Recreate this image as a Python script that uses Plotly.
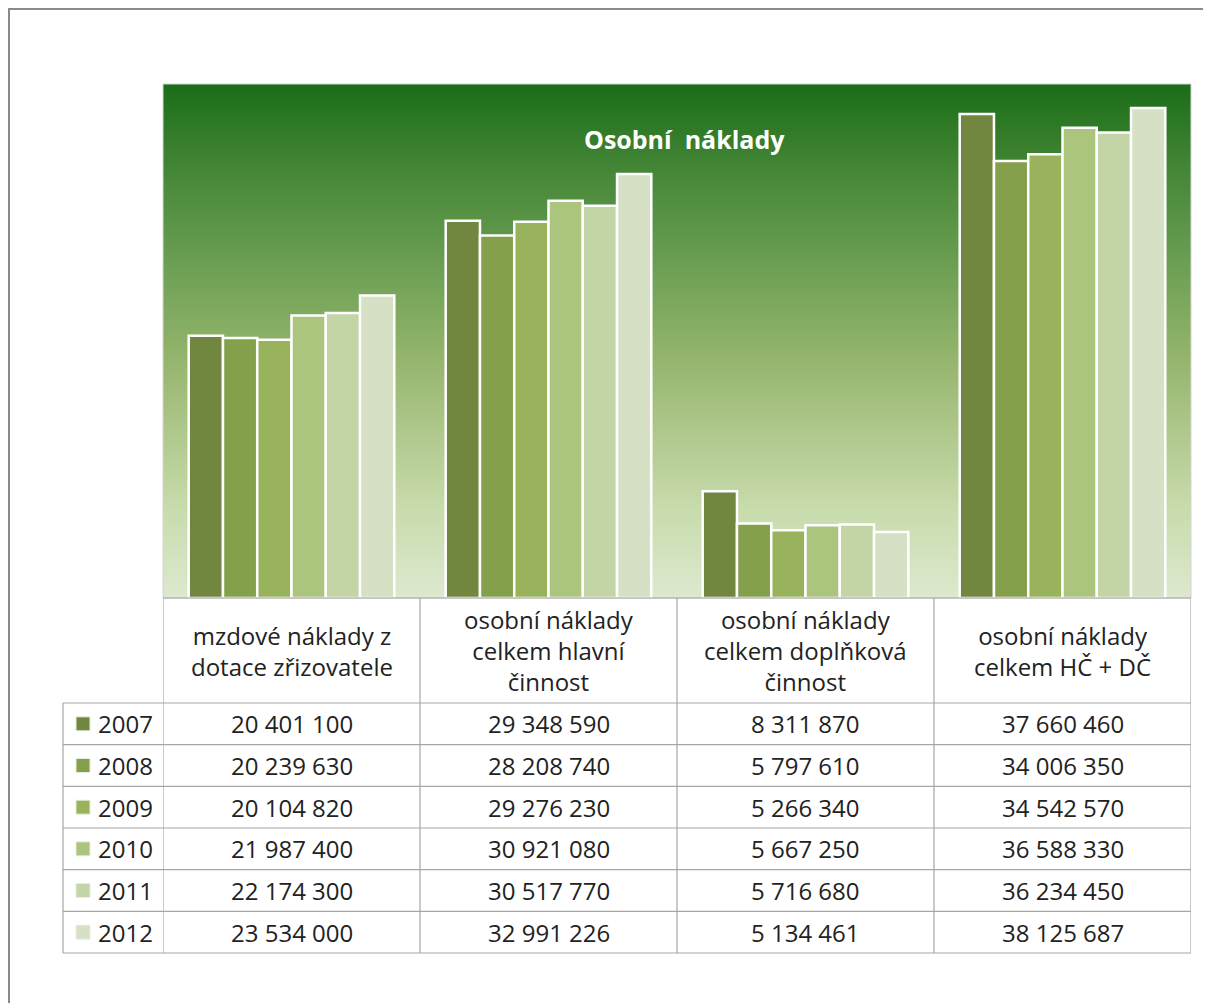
import plotly.graph_objects as go

# ---------------- data ----------------
categories = [
    "mzdové náklady z<br>dotace zřizovatele",
    "osobní náklady<br>celkem hlavní<br>činnost",
    "osobní náklady<br>celkem doplňková<br>činnost",
    "osobní náklady<br>celkem HČ + DČ",
]
years = ["2007", "2008", "2009", "2010", "2011", "2012"]
v2007 = [20401100, 29348590, 8311870, 37660460]
v2008 = [20239630, 28208740, 5797610, 34006350]
v2009 = [20104820, 29276230, 5266340, 34542570]
v2010 = [21987400, 30921080, 5667250, 36588330]
v2011 = [22174300, 30517770, 5716680, 36234450]
v2012 = [23534000, 32991226, 5134461, 38125687]
series = [v2007, v2008, v2009, v2010, v2011, v2012]
colors = ["#71863e", "#85a04b", "#98b35b", "#abc57e", "#c3d4a6", "#d6e0c5"]
title_text = "Osobní  náklady"

# ---------------- layout constants (pixels, in window coordinates) ----------------
W, H = 1211, 1003
OFF = 8                                  # page body margin
PL, PR, PT, PB = 163, 1191, 84, 598      # plot area
LEG_X = 63                               # left edge of legend column
HDR_BOTTOM = 703
ROW_H = 41.67
FONT = "Open Sans"
FS = 24
TXT = "#222222"
GRID = "#a6a6a6"


def px(x):
    return (x - OFF) / W


def py(y):
    return 1 - (y - OFF) / H


def fmt(v):
    return f"{v:,}".replace(",", " ")


fig = go.Figure()

# gradient background of plot area
fig.add_trace(go.Heatmap(
    x=[-0.5, 3.5], y=[0, 40e6], z=[[0, 0], [1, 1]], zsmooth="best",
    colorscale=[[0, "#dde9cf"], [0.18, "#c7dbab"], [0.35, "#aac486"],
                [0.47, "#94b46c"], [0.6, "#76a55a"], [0.8, "#4c8b3c"],
                [1, "#1b6d18"]],
    showscale=False, hoverinfo="skip",
))

xs = list(range(len(categories)))
for yr, vals, col in zip(years, series, colors):
    fig.add_trace(go.Bar(
        x=xs, y=vals, name=yr, marker=dict(color=col, line=dict(color="white", width=2.5)),
    ))

shapes = []
# outer frame
shapes.append(dict(type="rect", xref="paper", yref="paper", x0=px(9), x1=1.05,
                   y0=py(9), y1=-0.05, line=dict(color="#8a8a8a", width=2)))
# plot area light border
shapes.append(dict(type="rect", xref="paper", yref="paper", x0=px(PL), x1=px(PR),
                   y0=py(PT), y1=py(PB), line=dict(color="#d4d4d4", width=1)))

n_rows = len(years)
row_edges = [HDR_BOTTOM + i * ROW_H for i in range(n_rows + 1)]
TB = row_edges[-1]
# horizontal table lines
shapes.append(dict(type="line", xref="paper", yref="paper", x0=px(PL), x1=px(PR),
                   y0=py(PB), y1=py(PB), line=dict(color=GRID, width=1.2)))
for ye in row_edges:
    shapes.append(dict(type="line", xref="paper", yref="paper", x0=px(LEG_X), x1=px(PR),
                       y0=py(ye), y1=py(ye), line=dict(color=GRID, width=1.2)))
# vertical table lines (category boundaries on the x axis)
for i in range(len(categories) + 1):
    shapes.append(dict(type="line", xref="x", yref="paper", x0=i - 0.5, x1=i - 0.5,
                       y0=py(PB), y1=py(TB), line=dict(color=GRID, width=1.2)))
shapes.append(dict(type="line", xref="paper", yref="paper", x0=px(LEG_X), x1=px(LEG_X),
                   y0=py(HDR_BOTTOM), y1=py(TB), line=dict(color=GRID, width=1.2)))

annotations = []
annotations.append(dict(text=f"<b>{title_text}</b>", xref="paper", yref="paper",
                        x=px(684), y=py(139), xanchor="center", yanchor="middle",
                        showarrow=False,
                        font=dict(family=FONT, size=25, color="white")))
# header
for i, c in enumerate(categories):
    annotations.append(dict(text=c, xref="x", yref="paper", x=i, y=py((PB + HDR_BOTTOM) / 2),
                            xanchor="center", yanchor="middle", showarrow=False,
                            font=dict(family=FONT, size=FS, color=TXT)))
# rows
for r, (yr, vals, col) in enumerate(zip(years, series, colors)):
    yc = (row_edges[r] + row_edges[r + 1]) / 2
    shapes.append(dict(type="rect", xref="paper", yref="paper", x0=px(76), x1=px(90),
                       y0=py(yc - 7), y1=py(yc + 7), fillcolor=col,
                       line=dict(color="#e8eee0", width=1)))
    annotations.append(dict(text=yr, xref="paper", yref="paper", x=px(96), y=py(yc),
                            xanchor="left", yanchor="middle", showarrow=False,
                            font=dict(family=FONT, size=FS, color=TXT)))
    for i, v in enumerate(vals):
        annotations.append(dict(text=fmt(v), xref="x", yref="paper", x=i, y=py(yc),
                                xanchor="center", yanchor="middle", showarrow=False,
                                font=dict(family=FONT, size=FS, color=TXT)))

fig.update_layout(
    width=W, height=H, margin=dict(l=0, r=0, t=0, b=0),
    paper_bgcolor="white", plot_bgcolor="rgba(0,0,0,0)",
    barmode="group", bargap=0.2, bargroupgap=0,
    showlegend=False,
    xaxis=dict(domain=[px(PL), px(PR)], range=[-0.5, 3.5], visible=False, fixedrange=True),
    yaxis=dict(domain=[py(PB), py(PT)], range=[0, 40e6], visible=False, fixedrange=True),
    shapes=shapes, annotations=annotations,
)

fig.write_html("out.html")
